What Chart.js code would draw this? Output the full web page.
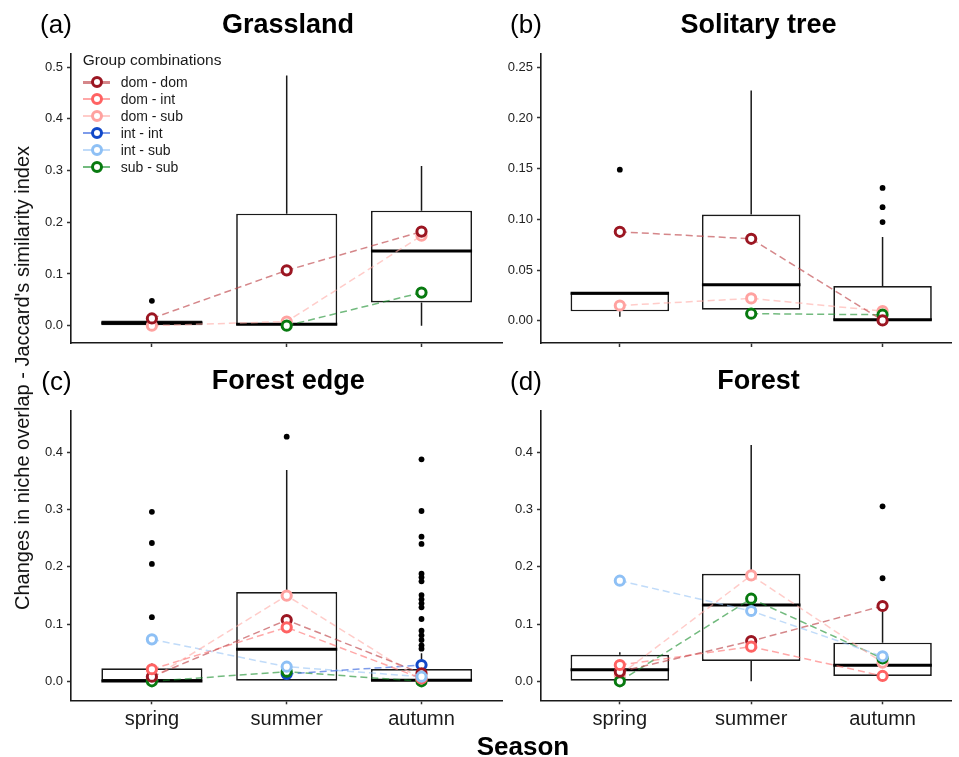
<!DOCTYPE html>
<html><head><meta charset="utf-8">
<script src="https://cdn.jsdelivr.net/npm/chart.js@4.4.0/dist/chart.umd.min.js"></script>
<style>
html,body{margin:0;padding:0;background:#fff;width:959px;height:757px;overflow:hidden;font-family:"Liberation Sans",Arial,sans-serif;}
canvas{position:absolute;}
.t{position:absolute;white-space:nowrap;transform:translate(-50%,-50%);line-height:1;color:#000;}
.lg{position:absolute;white-space:nowrap;line-height:1;color:#1a1a1a;}
</style></head><body>
<canvas id="cA" width="510" height="360" style="left:0;top:0"></canvas>
<canvas id="cB" width="454" height="360" style="left:505px;top:0"></canvas>
<canvas id="cC" width="510" height="397" style="left:0;top:360px"></canvas>
<canvas id="cD" width="454" height="397" style="left:505px;top:360px"></canvas>
<div id="texts"></div>
<script>
// ---------- categories / groups ----------
const seasons = ['spring', 'summer', 'autumn'];
const groups = ['dom - dom', 'dom - int', 'dom - sub', 'int - int', 'int - sub', 'sub - sub'];
const legendTitle = 'Group combinations';
const yTitle = "Changes in niche overlap - Jaccard's similarity index";
const xTitle = 'Season';

// ---------- (a) Grassland ----------
const grassLow = [0, 0, 0];
const grassQ1 = [0, 0, 0.045];
const grassMed = [0.005, 0.003, 0.1445];
const grassQ3 = [0.01, 0.2167, 0.2225];
const grassHigh = [0.012, 0.484, 0.309];
const grassOutliers = [[0.048], [], []];
const grassMeans = [
  [0.014, 0.107, 0.182],
  [null, null, null],
  [0.0, 0.008, 0.174],
  [null, null, null],
  [null, null, null],
  [null, 0.0, 0.064]
];
const grassTicks = [0, 0.1, 0.2, 0.3, 0.4, 0.5];
const grassTickLabels = ['0.0', '0.1', '0.2', '0.3', '0.4', '0.5'];

// ---------- (b) Solitary tree ----------
const treeLow = [0.004, 0.0108, 0];
const treeQ1 = [0.0092, 0.0108, 0.0003];
const treeMed = [0.027, 0.0355, 0.001];
const treeQ3 = [0.0273, 0.1048, 0.0342];
const treeHigh = [0.0273, 0.227, 0.0825];
const treeOutliers = [[0.149], [], [0.131, 0.112, 0.0973]];
const treeMeans = [
  [0.0877, 0.0808, 0.0003],
  [null, null, null],
  [0.015, 0.022, 0.0095],
  [null, null, null],
  [null, null, null],
  [null, 0.0069, 0.0059]
];
const treeTicks = [0, 0.05, 0.1, 0.15, 0.2, 0.25];
const treeTickLabels = ['0.00', '0.05', '0.10', '0.15', '0.20', '0.25'];

// ---------- (c) Forest edge ----------
const edgeLow = [0, 0, 0];
const edgeQ1 = [0, 0, 0];
const edgeMed = [0.0005, 0.0559, 0.002];
const edgeQ3 = [0.0227, 0.156, 0.0215];
const edgeHigh = [0.031, 0.369, 0.049];
const edgeOutliers = [
  [0.296, 0.2416, 0.205, 0.112],
  [0.4273],
  [0.3877, 0.2975, 0.2526, 0.240, 0.188, 0.1817, 0.1747, 0.1507, 0.1432, 0.1362, 0.1292, 0.1088, 0.0884, 0.0803, 0.0721, 0.0629, 0.057]
];
const edgeMeans = [
  [0.008, 0.107, 0.014],
  [0.021, 0.0943, 0.005],
  [0.005, 0.1496, 0.003],
  [null, 0.0128, 0.0285],
  [0.0733, 0.0255, 0.008],
  [0.0, 0.0168, 0.0]
];
const edgeTicks = [0, 0.1, 0.2, 0.3, 0.4];
const edgeTickLabels = ['0.0', '0.1', '0.2', '0.3', '0.4'];

// ---------- (d) Forest ----------
const forestLow = [0, 0, 0.0093];
const forestQ1 = [0, 0.0355, 0.0093];
const forestMed = [0.0203, 0.1333, 0.028];
const forestQ3 = [0.0465, 0.188, 0.0675];
const forestHigh = [0.0507, 0.4127, 0.13];
const forestOutliers = [[], [], [0.3057, 0.18]];
const forestMeans = [
  [0.0168, 0.0704, 0.1315],
  [0.0285, 0.0605, 0.0093],
  [0.011, 0.185, 0.0325],
  [null, null, null],
  [0.1757, 0.1228, 0.0437],
  [0.0, 0.1443, 0.04]
];
const forestTicks = [0, 0.1, 0.2, 0.3, 0.4];
const forestTickLabels = ['0.0', '0.1', '0.2', '0.3', '0.4'];

// ---------- styles ----------
const groupColors = ['#9b1622', '#ff6262', '#ffa2a0', '#1148c8', '#8ec0f5', '#087a10'];
const lineColors = ['rgba(190,70,75,0.65)', 'rgba(255,110,110,0.6)', 'rgba(255,170,165,0.6)', 'rgba(40,90,220,0.6)', 'rgba(150,195,245,0.6)', 'rgba(20,140,40,0.6)'];
const pointZ = [3, 2, 5, 6, 1, 4];

Chart.defaults.font.family = '"Liberation Sans", Arial, sans-serif';

function boxPlugin(low, q1, med, q3, high) {
  return {
    id: 'boxStats',
    beforeDatasetsDraw(chart) {
      const ctx = chart.ctx, x = chart.scales.x, y = chart.scales.y;
      ctx.save();
      ctx.strokeStyle = '#1a1a1a';
      ctx.lineWidth = 1.5;
      ctx.beginPath();
      q1.forEach((q, i) => {
        const px = x.getPixelForValue(i);
        ctx.moveTo(px, y.getPixelForValue(q3[i]));
        ctx.lineTo(px, y.getPixelForValue(high[i]));
        ctx.moveTo(px, y.getPixelForValue(q));
        ctx.lineTo(px, y.getPixelForValue(low[i]));
      });
      ctx.stroke();
      ctx.restore();
    },
    afterDatasetDraw(chart, args) {
      if (args.meta.type !== 'bar') return;
      const ctx = chart.ctx, y = chart.scales.y;
      ctx.save();
      ctx.strokeStyle = '#000';
      ctx.lineWidth = 3;
      ctx.beginPath();
      args.meta.data.forEach((bar, i) => {
        const py = y.getPixelForValue(med[i]);
        ctx.moveTo(bar.x - bar.width / 2, py);
        ctx.lineTo(bar.x + bar.width / 2, py);
      });
      ctx.stroke();
      ctx.restore();
    }
  };
}

function makePanel(id, geo, low, q1, med, q3, high, outliers, means, ticks, tickLabels, showX) {
  const datasets = [];
  datasets.push({
    type: 'bar',
    data: seasons.map((s, i) => ({ x: i, y: [q1[i], q3[i]] })),
    backgroundColor: '#fff', borderColor: '#1a1a1a', borderWidth: 1.7, borderSkipped: false,
    categoryPercentage: 0.75, barPercentage: 1, order: 100
  });
  const outPts = [];
  outliers.forEach((arr, i) => arr.forEach(v => outPts.push({ x: i, y: v })));
  datasets.push({
    type: 'scatter', data: outPts, pointRadius: 2.9, pointBackgroundColor: '#000',
    pointBorderWidth: 0, order: 90
  });
  means.forEach((vals, g) => {
    const pts = seasons.map((s, i) => ({ x: i, y: vals[i] }));
    datasets.push({
      type: 'line', data: pts, borderColor: lineColors[g], borderWidth: 1.5,
      borderDash: [7, 4], pointRadius: 0, fill: false, spanGaps: false, order: 50
    });
  });
  means.forEach((vals, g) => {
    const pts = seasons.map((s, i) => ({ x: i, y: vals[i] }));
    datasets.push({
      type: 'scatter', data: pts, pointRadius: 4.6, pointBorderWidth: 3,
      pointBorderColor: groupColors[g], pointBackgroundColor: '#fff', order: pointZ[g]
    });
  });
  return new Chart(document.getElementById(id), {
    type: 'scatter',
    data: { datasets },
    plugins: [boxPlugin(low, q1, med, q3, high)],
    options: {
      responsive: false, animation: false, events: [], devicePixelRatio: 1,
      layout: { padding: geo.pad },
      plugins: { legend: { display: false }, tooltip: { enabled: false } },
      scales: {
        x: {
          type: 'linear', min: -0.6, max: geo.xmax, offset: false,
          afterBuildTicks: s => { s.ticks = seasons.map((_, i) => ({ value: i })); },
          afterFit: s => { s.height = geo.xh; },
          ticks: { display: showX, callback: v => seasons[v], font: { size: 20 }, color: '#1a1a1a', padding: geo.xpad, autoSkip: false, maxRotation: 0 },
          grid: { offset: false, drawOnChartArea: false, drawTicks: true, tickLength: 4, tickWidth: 1.5, tickColor: '#333' },
          border: { display: true, color: '#1a1a1a', width: 1.6 }
        },
        y: {
          type: 'linear', min: geo.ymin, max: geo.ymax, offset: false,
          afterBuildTicks: s => { s.ticks = ticks.map(v => ({ value: v })); },
          afterFit: s => { s.width = geo.yw; },
          ticks: { callback: (v, i) => tickLabels[i], font: { size: 13 }, color: '#222', padding: 4 },
          grid: { offset: false, drawOnChartArea: false, drawTicks: true, tickLength: 4, tickWidth: 1.5, tickColor: '#333' },
          border: { display: true, color: '#1a1a1a', width: 1.6 }
        }
      }
    }
  });
}

makePanel('cA', { pad: { top: 54, right: 5, left: 0, bottom: 0 }, xmax: 2.6, xh: 17, yw: 71, ymin: -0.0335, ymax: 0.5255, xpad: 3.5 },
  grassLow, grassQ1, grassMed, grassQ3, grassHigh, grassOutliers, grassMeans, grassTicks, grassTickLabels, false);
makePanel('cB', { pad: { top: 54, right: 0, left: 0, bottom: 0 }, xmax: 2.524, xh: 17, yw: 36, ymin: -0.022, ymax: 0.2631, xpad: 3.5 },
  treeLow, treeQ1, treeMed, treeQ3, treeHigh, treeOutliers, treeMeans, treeTicks, treeTickLabels, false);
makePanel('cC', { pad: { top: 50.7, right: 5, left: 0, bottom: 0 }, xmax: 2.6, xh: 56.7, yw: 71, ymin: -0.0332, ymax: 0.4727, xpad: 3.5 },
  edgeLow, edgeQ1, edgeMed, edgeQ3, edgeHigh, edgeOutliers, edgeMeans, edgeTicks, edgeTickLabels, true);
makePanel('cD', { pad: { top: 50.7, right: 0, left: 0, bottom: 0 }, xmax: 2.524, xh: 56.7, yw: 36, ymin: -0.0332, ymax: 0.4727, xpad: 3.5 },
  forestLow, forestQ1, forestMed, forestQ3, forestHigh, forestOutliers, forestMeans, forestTicks, forestTickLabels, true);

// ---------- text ----------
const texts = document.getElementById('texts');
function addText(txt, x, y, css) {
  const d = document.createElement('div');
  d.className = 't';
  d.textContent = txt;
  d.style.left = x + 'px';
  d.style.top = y + 'px';
  Object.assign(d.style, css || {});
  texts.appendChild(d);
  return d;
}
const panelLetters = ['(a)', '(b)', '(c)', '(d)'];
const panelTitles = ['Grassland', 'Solitary tree', 'Forest edge', 'Forest'];
const letterPos = [[56, 24], [526, 24], [56.5, 380.5], [526, 380.5]];
const titlePos = [[288, 24], [758.5, 24], [288.3, 380.3], [758.5, 380.3]];
panelLetters.forEach((l, i) => addText(l, letterPos[i][0], letterPos[i][1], { fontSize: '26px' }));
panelTitles.forEach((l, i) => addText(l, titlePos[i][0], titlePos[i][1], { fontSize: '27px', fontWeight: 'bold' }));
addText(yTitle, 21.5, 377.5, { fontSize: '20px', transform: 'translate(-50%,-50%) rotate(-90deg)', color: '#111' });
addText(xTitle, 523, 746.3, { fontSize: '26px', fontWeight: 'bold' });

// ---------- legend ----------
const lgTitle = document.createElement('div');
lgTitle.className = 'lg';
lgTitle.textContent = legendTitle;
Object.assign(lgTitle.style, { left: '82.7px', top: '59.6px', fontSize: '15.5px', transform: 'translateY(-50%)' });
texts.appendChild(lgTitle);
groups.forEach((g, i) => {
  const cy = 82.3 + i * 16.9;
  const line = document.createElement('div');
  Object.assign(line.style, { position: 'absolute', left: '83px', width: '27px', top: (cy - 1.25) + 'px', height: '2.5px', background: lineColors[i] });
  texts.appendChild(line);
  const c = document.createElement('div');
  Object.assign(c.style, { position: 'absolute', left: (96.7 - 6.2) + 'px', top: (cy - 6.2) + 'px', width: '12.4px', height: '12.4px', boxSizing: 'border-box', border: '3.3px solid ' + groupColors[i], borderRadius: '50%', background: '#fff' });
  texts.appendChild(c);
  const t = document.createElement('div');
  t.className = 'lg';
  t.textContent = g;
  Object.assign(t.style, { left: '120.7px', top: cy + 'px', fontSize: '14px', transform: 'translateY(-50%)' });
  texts.appendChild(t);
});
</script>
</body></html>
